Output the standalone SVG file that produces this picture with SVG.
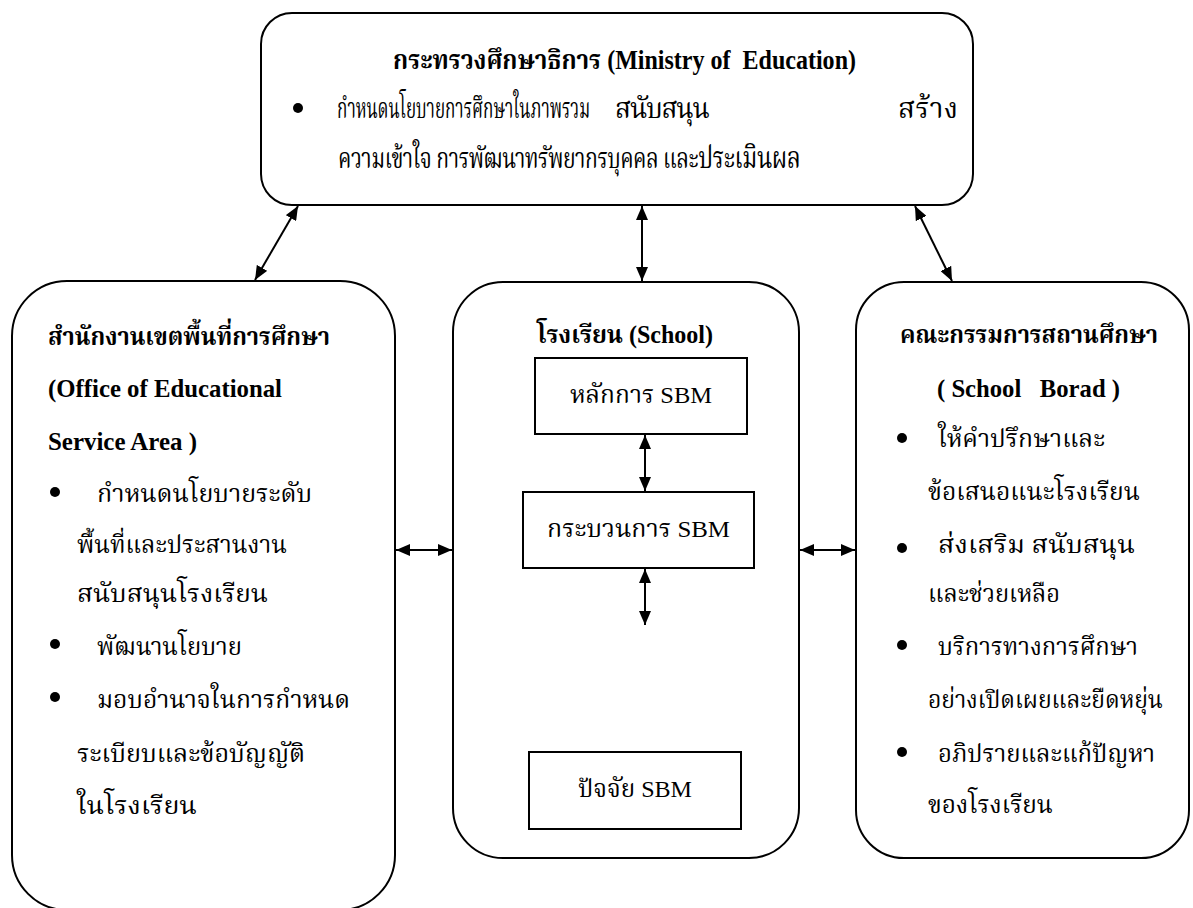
<svg xmlns="http://www.w3.org/2000/svg" width="1193" height="908" viewBox="0 0 1193 908">
<style>
.box{fill:#fff;stroke:#000;stroke-width:2}
.t{font-family:'Liberation Serif','Noto Serif Thai','Noto Sans Thai','DejaVu Serif',serif;font-size:24px;fill:#000}
.b{font-weight:bold;font-size:25px}
.top{font-size:28px}
.ttl{font-size:27px}
.c{stroke:#000;stroke-width:2;fill:none;marker-start:url(#ah);marker-end:url(#ah)}
</style>
<defs>
<marker id="ah" viewBox="0 0 14 12" refX="14" refY="6" markerWidth="14" markerHeight="12" markerUnits="userSpaceOnUse" orient="auto-start-reverse">
<path d="M0,0 L14,6 L0,12 z" fill="#000"/>
</marker>
</defs>
<rect width="1193" height="908" fill="#fff"/>

<g id="ministry">
<rect class="box" x="261" y="13" width="712" height="192" rx="31"/>
<text class="t b ttl" x="393" y="69" textLength="463" lengthAdjust="spacingAndGlyphs">กระทรวงศึกษาธิการ (Ministry of&#160; Education)</text>
<circle cx="298" cy="108" r="5"/>
<text class="t top" transform="translate(337,118) scale(0.61,1)" textLength="415" lengthAdjust="spacing">กำหนดนโยบายการศึกษาในภาพรวม</text>
<text class="t top" transform="translate(615,118) scale(0.94,1)" textLength="101" lengthAdjust="spacing">สนับสนุน</text>
<text class="t top" x="898" y="118" textLength="60" lengthAdjust="spacing">สร้าง</text>
<text class="t top" transform="translate(338,168) scale(0.755,1)" textLength="613" lengthAdjust="spacing">ความเข้าใจ การพัฒนาทรัพยากรบุคคล และ<tspan font-size="31">ประเมินผล</tspan></text>
</g>

<g id="office">
<rect class="box" x="12" y="281" width="383" height="629" rx="55"/>
<text class="t b" x="48" y="345" textLength="282" lengthAdjust="spacingAndGlyphs">สำนักงานเขตพื้นที่การศึกษา</text>
<text class="t b" x="48" y="397" textLength="234" lengthAdjust="spacingAndGlyphs">(Office of Educational</text>
<text class="t b" x="48" y="450" textLength="149" lengthAdjust="spacingAndGlyphs">Service Area )</text>
<circle cx="55" cy="492" r="5"/>
<text class="t" x="97" y="502" textLength="215" lengthAdjust="spacingAndGlyphs">กำหนดนโยบายระดับ</text>
<text class="t" x="77" y="553" textLength="210" lengthAdjust="spacingAndGlyphs">พื้นที่และประสานงาน</text>
<text class="t" x="77" y="602" textLength="191" lengthAdjust="spacingAndGlyphs">สนับสนุนโรงเรียน</text>
<circle cx="55" cy="644" r="5"/>
<text class="t" x="97" y="655" textLength="145" lengthAdjust="spacingAndGlyphs">พัฒนานโยบาย</text>
<circle cx="55" cy="697" r="5"/>
<text class="t" x="97" y="708" textLength="253" lengthAdjust="spacingAndGlyphs">มอบอำนาจในการกำหนด</text>
<text class="t" x="77" y="762" textLength="228" lengthAdjust="spacingAndGlyphs">ระเบียบและข้อบัญญัติ</text>
<text class="t" x="77" y="814" textLength="120" lengthAdjust="spacingAndGlyphs">ในโรงเรียน</text>
</g>

<g id="school">
<rect class="box" x="453" y="282" width="346" height="576" rx="50"/>
<text class="t b" x="537" y="343" textLength="176" lengthAdjust="spacingAndGlyphs">โรงเรียน (School)</text>
</g>

<g id="principle">
<rect class="box" x="535" y="358" width="212" height="76"/>
<text class="t" x="570" y="403" textLength="142" lengthAdjust="spacingAndGlyphs">หลักการ SBM</text>
</g>

<g id="process">
<rect class="box" x="523" y="492" width="231" height="76"/>
<text class="t" x="547" y="537" textLength="183" lengthAdjust="spacingAndGlyphs">กระบวนการ SBM</text>
</g>

<g id="factor">
<rect class="box" x="529" y="752" width="212" height="77"/>
<text class="t" x="578" y="797" textLength="114" lengthAdjust="spacingAndGlyphs">ปัจจัย SBM</text>
</g>

<g id="board">
<rect class="box" x="856" y="282" width="333" height="576" rx="48"/>
<text class="t b" x="900" y="343" textLength="258" lengthAdjust="spacingAndGlyphs">คณะกรรมการสถานศึกษา</text>
<text class="t b" x="937" y="397" textLength="183" lengthAdjust="spacingAndGlyphs">(&#160;School&#160;&#160;&#160;Borad&#160;)</text>
<circle cx="902" cy="438" r="5"/>
<text class="t" x="938" y="447" textLength="167" lengthAdjust="spacingAndGlyphs">ให้คำปรึกษาและ</text>
<text class="t" x="928" y="500" textLength="212" lengthAdjust="spacingAndGlyphs">ข้อเสนอแนะโรงเรียน</text>
<circle cx="902" cy="548" r="5"/>
<text class="t" x="938" y="553" textLength="197" lengthAdjust="spacingAndGlyphs">ส่งเสริม สนับสนุน</text>
<text class="t" x="928" y="602" textLength="132" lengthAdjust="spacingAndGlyphs">และช่วยเหลือ</text>
<circle cx="902" cy="645" r="5"/>
<text class="t" x="938" y="655" textLength="200" lengthAdjust="spacingAndGlyphs">บริการทางการศึกษา</text>
<text class="t" x="928" y="708" textLength="235" lengthAdjust="spacingAndGlyphs">อย่างเปิดเผยและยืดหยุ่น</text>
<circle cx="902" cy="752" r="5"/>
<text class="t" x="938" y="762" textLength="217" lengthAdjust="spacingAndGlyphs">อภิปรายและแก้ปัญหา</text>
<text class="t" x="928" y="813" textLength="125" lengthAdjust="spacingAndGlyphs">ของโรงเรียน</text>
</g>

<g id="connectors">
<line class="c" x1="298" y1="206" x2="255" y2="280"/>
<line class="c" x1="642" y1="206" x2="642" y2="281"/>
<line class="c" x1="915" y1="206" x2="952" y2="281"/>
<line class="c" x1="396" y1="550" x2="452" y2="550"/>
<line class="c" x1="800" y1="550" x2="855" y2="550"/>
<line class="c" x1="645" y1="435" x2="645" y2="491"/>
<line class="c" x1="645" y1="569" x2="645" y2="625"/>
</g>
</svg>
